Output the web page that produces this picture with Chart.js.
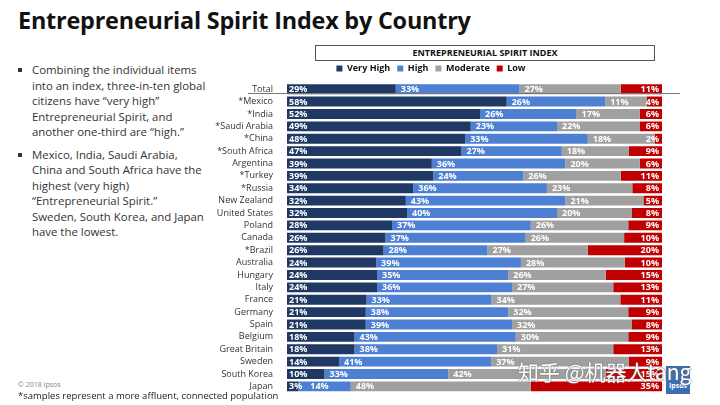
<!DOCTYPE html>
<html>
<head>
<meta charset="utf-8">
<script src="https://cdn.jsdelivr.net/npm/chart.js@4"></script>
<style>
  body { margin: 0; width: 720px; height: 405px; background: #fff; position: relative; overflow: hidden; font-family: "Open Sans", sans-serif; color: #222; }
  #title { position: absolute; left: 18px; top: 4px; font-size: 23.4px; font-weight: bold; color: #111; letter-spacing: -0.2px; }
  .bullets { position: absolute; left: 18px; top: 62px; width: 205px; font-size: 11.4px; line-height: 15.5px; color: #333; }
  .bullets p { margin: 0 0 7px 0; padding-left: 14px; position: relative; }
  .bullets p::before { content: ""; position: absolute; left: 0; top: 6px; width: 4px; height: 4px; background: #333; }
  #boxTitle { position: absolute; left: 315px; top: 45px; width: 338px; height: 14px; border: 1px solid #555; font-size: 9px; font-weight: bold; text-align: center; line-height: 14px; color: #111; }
  #sep { position: absolute; left: 248px; top: 93px; width: 432px; height: 1px; background: #777; }
  #copy { position: absolute; left: 18px; top: 380px; font-size: 7px; color: #888; }
  #note { position: absolute; left: 18px; top: 389px; font-size: 9.5px; color: #222; }
  #chartWrap { position: absolute; left: 200px; top: 57px; width: 520px; height: 347px; }
  #logo { position: absolute; left: 666px; top: 366px; width: 24px; height: 28px; background: #3a6fb5; color: #fff; font-size: 7px; font-weight: bold; text-align: center; line-height: 40px; }
  #wm { position: absolute; left: 518px; top: 356px; font-family: "Noto Sans CJK SC", sans-serif; font-size: 21px; color: #fff; text-shadow: 0 0 2px #777, 0 0 1px #555; white-space: nowrap; }
</style>
</head>
<body>
<div id="title">Entrepreneurial Spirit Index by Country</div>
<div class="bullets">
  <p>Combining the individual items<br>into an index, three-in-ten global<br>citizens have “very high”<br>Entrepreneurial Spirit, and<br>another one-third are “high.”</p>
  <p>Mexico, India, Saudi Arabia,<br>China and South Africa have the<br>highest (very high)<br>“Entrepreneurial Spirit.”<br>Sweden, South Korea, and Japan<br>have the lowest.</p>
</div>
<div id="boxTitle">ENTREPRENEURIAL SPIRIT INDEX</div>
<div id="chartWrap"><canvas id="spiritChart"></canvas></div>
<div id="sep"></div>
<div id="copy">© 2018 Ipsos</div>
<div id="note">*samples represent a more affluent, connected population</div>
<div id="logo">Ipsos</div>
<div id="wm">知乎 @机器人tang</div>
<script>
// ========= Data =========
const countries = ["Total", "*Mexico", "*India", "*Saudi Arabia", "*China", "*South Africa", "Argentina", "*Turkey", "*Russia", "New Zealand", "United States", "Poland", "Canada", "*Brazil", "Australia", "Hungary", "Italy", "France", "Germany", "Spain", "Belgium", "Great Britain", "Sweden", "South Korea", "Japan"];
const veryHigh = [29, 58, 52, 49, 48, 47, 39, 39, 34, 32, 32, 28, 26, 26, 24, 24, 24, 21, 21, 21, 18, 18, 14, 10, 3];
const high     = [33, 26, 26, 23, 33, 27, 36, 24, 36, 43, 40, 37, 37, 28, 39, 35, 36, 33, 38, 39, 43, 38, 41, 33, 14];
const moderate = [27, 11, 17, 22, 18, 18, 20, 26, 23, 21, 20, 26, 26, 27, 28, 26, 27, 34, 32, 32, 30, 31, 37, 42, 48];
const low      = [11, 4, 6, 6, 2, 9, 6, 11, 8, 5, 8, 9, 10, 20, 10, 15, 13, 11, 9, 8, 9, 13, 9, 15, 35];

// 100% stacked: scale each row to its own total
const rowTotals = countries.map((_, i) => veryHigh[i] + high[i] + moderate[i] + low[i]);
const share = (arr) => arr.map((v, i) => (v / rowTotals[i]) * 100);

// ========= Segment labels =========
const segmentLabels = {
    id: "segmentLabels",
    afterDatasetsDraw(chart) {
        const ctx = chart.ctx;
        ctx.save();
        ctx.font = "bold 9px 'Open Sans', sans-serif";
        ctx.fillStyle = "#fff";
        ctx.textBaseline = "middle";
        const lastRight = {};
        chart.data.datasets.forEach((ds, di) => {
            chart.getDatasetMeta(di).data.forEach((bar, i) => {
                const text = ds.raw[i] + "%";
                if (di === 3) {
                    ctx.textAlign = "right";
                    ctx.fillText(text, bar.x - 3, bar.y + 0.5);
                } else {
                    ctx.textAlign = "left";
                    let x = Math.min(bar.x, bar.base) + (di === 0 ? 2 : 5);
                    if (lastRight[i] && x < lastRight[i] + 4) x = lastRight[i] + 8;
                    ctx.fillText(text, x, bar.y + 0.5);
                    lastRight[i] = x + ctx.measureText(text).width;
                }
            });
        });
        ctx.restore();
    },
};

const makeSet = (label, raw, color) => ({
    label,
    raw,
    data: share(raw),
    backgroundColor: color,
    borderWidth: 0,
    categoryPercentage: 1,
    barPercentage: 0.8,
});

new Chart(document.getElementById("spiritChart"), {
    type: "bar",
    data: {
        labels: countries,
        datasets: [
            makeSet("Very High", veryHigh, "#1f3864"),
            makeSet("High", high, "#4d80d3"),
            makeSet("Moderate", moderate, "#a0a0a0"),
            makeSet("Low", low, "#c00000"),
        ],
    },
    options: {
        indexAxis: "y",
        responsive: true,
        maintainAspectRatio: false,
        animation: false,
        layout: { padding: { left: 0, right: 58, top: 0, bottom: 0 } },
        plugins: {
            legend: {
                position: "top",
                align: "center",
                labels: {
                    boxWidth: 6,
                    boxHeight: 6,
                    padding: 7,
                    color: "#111",
                    font: { family: "'Open Sans', sans-serif", size: 9, weight: "bold" },
                },
            },
            tooltip: { enabled: false },
        },
        scales: {
            x: {
                stacked: true,
                min: 0,
                max: 100,
                display: false,
            },
            y: {
                stacked: true,
                grid: { display: false },
                border: { display: false },
                ticks: {
                    color: "#333",
                    padding: 6,
                    autoSkip: false,
                    font: { family: "'Open Sans', sans-serif", size: 9 },
                },
                afterFit(scale) { scale.width = 87; },
            },
        },
    },
    plugins: [segmentLabels],
});
</script>
</body>
</html>
